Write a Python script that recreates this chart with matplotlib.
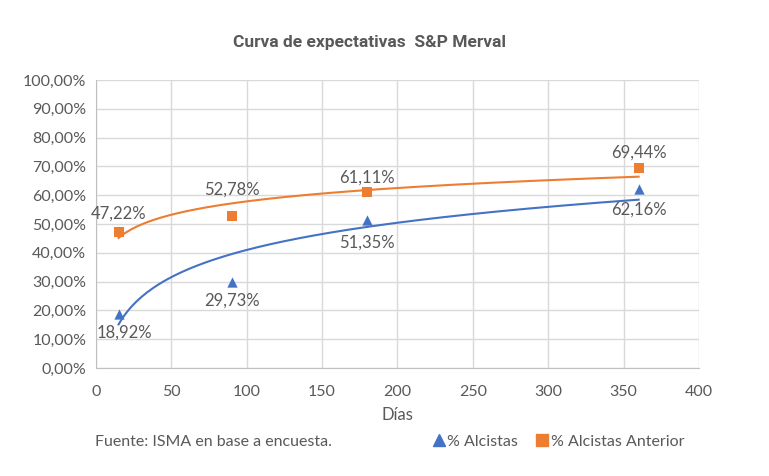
import numpy as np
import matplotlib
matplotlib.use("Agg")
import matplotlib.pyplot as plt
from matplotlib.ticker import FuncFormatter, MultipleLocator
from matplotlib.lines import Line2D

# datos
dias = [15, 90, 180, 360]
alcistas = [18.92, 29.73, 51.35, 62.16]
alcistas_ant = [47.22, 52.78, 61.11, 69.44]

azul = "#4472C4"
naranja = "#ED7D31"
gris = "#595959"

plt.rcParams['font.family'] = ['Lato', 'DejaVu Sans']

fig = plt.figure(figsize=(7.69, 4.76), dpi=100)
ax = fig.add_axes([0.1248, 0.2269, 0.7841, 0.6050])


def tendencia_log(x, y):
    # linea de tendencia logaritmica, como la de Excel
    b, a = np.polyfit(np.log(x), y, 1)
    xs = np.linspace(min(x), max(x), 200)
    return xs, a + b * np.log(xs)


for ys, col, mk in [(alcistas, azul, "^"), (alcistas_ant, naranja, "s")]:
    xs, yt = tendencia_log(dias, ys)
    ax.plot(xs, yt, color=col, lw=1.5, zorder=3)
    ax.scatter(dias, ys, marker=mk, s=55, color=col, zorder=4, linewidths=0)

fmt = lambda v: f"{v:.2f}".replace(".", ",") + "%"
# desplazamiento vertical de cada etiqueta (pt)
desp_azul = [-14, -13, -16, -15]
desp_naranja = [13, 19, 10, 11]
for x, y, d in zip(dias, alcistas, desp_azul):
    ax.annotate(fmt(y), (x, y), xytext=(4 if x == 15 else 0, d), textcoords="offset points",
                ha="center", va="center", fontsize=12, color=gris)
for x, y, d in zip(dias, alcistas_ant, desp_naranja):
    ax.annotate(fmt(y), (x, y), xytext=(0, d), textcoords="offset points",
                ha="center", va="center", fontsize=12, color=gris)

ax.set_xlim(0, 400)
ax.set_ylim(0, 100)
ax.xaxis.set_major_locator(MultipleLocator(50))
ax.yaxis.set_major_locator(MultipleLocator(10))
ax.yaxis.set_major_formatter(FuncFormatter(lambda v, p: f"{v:.2f}".replace(".", ",") + "%"))
ax.grid(True, color="#d9d9d9", lw=1)
ax.set_axisbelow(True)
for s in ["top", "right"]:
    ax.spines[s].set_visible(False)
for s in ["left", "bottom"]:
    ax.spines[s].set_color("#bfbfbf")
ax.tick_params(length=0, labelsize=11.5, labelcolor=gris)
ax.tick_params(axis="x", pad=12)
ax.tick_params(axis="y", pad=7)
ax.set_xlabel("Días", fontsize=12, color=gris, labelpad=6)

fig.text(0.48, 0.911, "Curva de expectativas  S&P Merval", ha="center", va="center",
         fontsize=12.5, color=gris, fontweight="bold",
         family=["Roboto", "DejaVu Sans"])

fig.text(0.124, 0.072, "Fuente: ISMA en base a encuesta.", ha="left", va="center",
         fontsize=11.5, color=gris)

handles = [Line2D([], [], marker="^", ls="", color=azul, markersize=8),
           Line2D([], [], marker="s", ls="", color=naranja, markersize=8)]
fig.legend(handles, ["% Alcistas", "% Alcistas Anterior"], loc="center",
           bbox_to_anchor=(0.725, 0.072), ncol=2, frameon=False, fontsize=11.5,
           labelcolor=gris, handletextpad=0.05, columnspacing=1.0, handlelength=1)

fig.savefig("out.png", dpi=100)
